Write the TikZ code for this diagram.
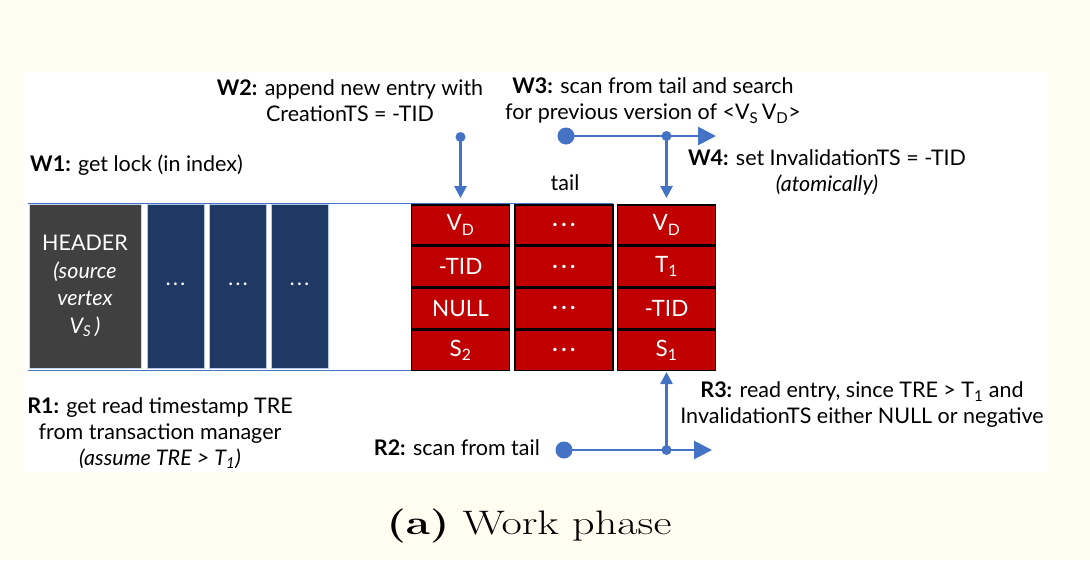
\documentclass[tikz,border=0pt]{standalone}
\usepackage{fontspec}
\usepackage{graphicx}
\usetikzlibrary{arrows.meta}
\newfontfamily\gillfont{Lato}
\definecolor{cream}{RGB}{254,253,240}
\definecolor{hdr}{RGB}{64,64,64}
\definecolor{navy}{RGB}{31,56,100}
\definecolor{cellred}{RGB}{192,0,0}
\definecolor{arrowblue}{RGB}{68,114,196}
\newcommand{\celldots}{\textbf{.\hspace{3.5pt}.\hspace{3.5pt}.}}
\begin{document}
\begin{tikzpicture}[x=1pt,y=-1pt,
  lbl/.style={font=\gillfont\fontsize{21.5}{26}\selectfont, inner sep=0pt, align=center, text=black},
  cellbox/.style={draw=black, line width=1.5pt, fill=cellred, text=white, minimum width=98pt, minimum height=40.3pt, font=\gillfont\fontsize{22.5}{24}\selectfont, inner sep=0pt},
  navybox/.style={fill=navy, draw=arrowblue!40, line width=0.6pt, minimum width=57pt, minimum height=164pt, inner sep=0pt, text=white, font=\gillfont\fontsize{18}{20}\selectfont},
  hdrbox/.style={fill=hdr, draw=arrowblue!30, line width=0.6pt, minimum width=112pt, minimum height=164pt, inner sep=0pt, text=white, align=center, font=\gillfont\fontsize{21.5}{27.5}\selectfont},
  bigdot/.style={circle, fill=arrowblue, minimum size=17pt, inner sep=0pt},
  smalldot/.style={circle, fill=arrowblue, minimum size=10pt, inner sep=0pt},
  harr/.style={draw=arrowblue, line width=2.8pt, -{Triangle[length=18pt,width=18pt]}},
  varr/.style={draw=arrowblue, line width=2.5pt, -{Triangle[length=12pt,width=12pt]}},
  frame/.style={draw=arrowblue, line width=1pt}
]
\useasboundingbox (0,0) rectangle (1090,560);
\fill[cream] (0,0) rectangle (1090,560);
\fill[white] (24,72) rectangle (1048,472);

% frame lines
\draw[frame] (28,203) -- (613,203);
\draw[frame] (28,370) -- (411,370);

% header and index blocks
\node[hdrbox] (header) at (85,286) {HEADER\\\textit{(source}\\\textit{vertex}\\\textit{V\textsubscript{S}\,)}};
\node[navybox] (b1) at (175.5,286) {\raisebox{0.3ex}{\textbf{.\,.\,.}}};
\node[navybox] (b2) at (238,286) {\raisebox{0.3ex}{\textbf{.\,.\,.}}};
\node[navybox] (b3) at (299.5,286) {\raisebox{0.3ex}{\textbf{.\,.\,.}}};

% red cells
\node[cellbox] (c11) at (460.5,225) {V\textsubscript{D}};
\node[cellbox] (c12) at (460.5,266.7) {-TID};
\node[cellbox] (c13) at (460.5,308.4) {NULL};
\node[cellbox] (c14) at (460.5,350.1) {S\textsubscript{2}};
\node[cellbox] (c21) at (564,225) {\celldots};
\node[cellbox] (c22) at (564,266.7) {\celldots};
\node[cellbox] (c23) at (564,308.4) {\celldots};
\node[cellbox] (c24) at (564,350.1) {\celldots};
\node[cellbox] (c31) at (666.5,225) {V\textsubscript{D}};
\node[cellbox] (c32) at (666.5,266.7) {T\textsubscript{1}};
\node[cellbox] (c33) at (666.5,308.4) {-TID};
\node[cellbox] (c34) at (666.5,350.1) {S\textsubscript{1}};

% labels
\node[lbl, anchor=west] (w1) at (30,165) {\textbf{W1:} get lock (in index)};
\node[lbl] (w2) at (350,101) {\textbf{W2:} append new entry with\\CreationTS = -TID};
\node[lbl] (w3) at (653,101) {\textbf{W3:} scan from tail and search\\for previous version of <V\textsubscript{S}\,V\textsubscript{D}>};
\node[lbl] (w4) at (827,172) {\textbf{W4:} set InvalidationTS = -TID\\\textit{(atomically)}};
\node[lbl] (tail) at (565,183) {tail};
\node[lbl] (r1) at (160,433) {\textbf{R1:} get read timestamp TRE\\from transaction manager\\\textit{(assume TRE > T\textsubscript{1})}};
\node[lbl, anchor=east] (r2) at (540,448) {\textbf{R2:} scan from tail};
\node[lbl] (r3) at (862,405) {\textbf{R3:} read entry, since TRE > T\textsubscript{1} and\\InvalidationTS either NULL or negative};

% W2 arrow
\node[smalldot] (w2s) at (460.5,137) {};
\draw[varr, shorten >=6pt] (w2s.center) -- (c11.north);

% W3 / W4 arrows
\node[bigdot] (w3s) at (566,136) {};
\coordinate (w3e) at (716,136);
\node[smalldot] (w3j) at (c31.north |- w3s) {};
\draw[harr] (w3s.center) -- (w3e);
\draw[varr, shorten >=6pt] (w3j.center) -- (c31.north);

% R2 / R3 arrows
\node[bigdot] (r2s) at (564,450) {};
\coordinate (r2e) at (712,450);
\node[smalldot] (r2j) at (c34.south |- r2s) {};
\draw[harr] (r2s.center) -- (r2e);
\draw[varr, shorten >=1pt] (r2j.center) -- (c34.south);

% caption
\node (cap) at (529,526) {\fontsize{34}{40}\selectfont\scalebox{1.3}[1]{\textbf{(a)} Work phase}};
\end{tikzpicture}
\end{document}
